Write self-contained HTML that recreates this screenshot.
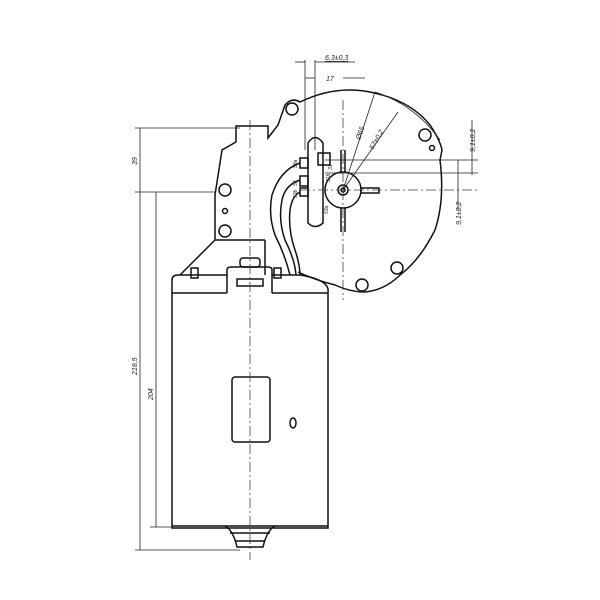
<!DOCTYPE html>
<html><head><style>
html,body{margin:0;padding:0;background:#fff;}
svg{display:block;}
text{font-family:"Liberation Sans",sans-serif;font-style:italic;fill:#222;}
</style></head><body>
<svg width="600" height="600" viewBox="0 0 600 600" xmlns="http://www.w3.org/2000/svg">
<g fill="none" stroke="#111" stroke-width="1.5">
<path d="M172,528 L172,280 Q172,275 178,275 L227,275 L227,270 Q227,267 231,267 L268,267 Q272,267 272,270 L272,275 L300,275 Q330,280 328,292 L328,528 Z"/>
<line x1="172" y1="293" x2="227" y2="293"/>
<line x1="272" y1="293" x2="328" y2="293"/>
<line x1="227" y1="275" x2="227" y2="293"/>
<line x1="272" y1="275" x2="272" y2="293"/>
<rect x="237" y="279" width="26" height="7"/>
<rect x="240" y="258" width="20" height="9" rx="3"/>
<rect x="191" y="268" width="7" height="10"/>
<rect x="274" y="268" width="7" height="10"/>
<line x1="172" y1="526" x2="328" y2="526"/>
<path d="M225,526 Q233,530 237,547 L263,547 Q267,530 275,526"/>
<line x1="230" y1="533" x2="270" y2="533"/>
<line x1="235" y1="541" x2="265" y2="541"/>
<rect x="232" y="377" width="38" height="65" rx="3"/>
<ellipse cx="293" cy="423" rx="3" ry="5"/>
<path d="M180,275 L215,240 L215,195 L222,150 L236,142 L236,126 L268,126 L268,138 L278,125 L285,105 Q292,97 300,102 Q335,85 370,92 Q410,100 430,125 Q440,140 442,150 L440,160 Q445,200 435,230 Q420,260 400,275 Q385,290 365,292 Q350,292 335,285 Q315,280 298,272"/>
<path d="M265,240 L265,275"/>
<line x1="215" y1="240" x2="265" y2="240"/>
<circle cx="292" cy="109" r="6"/>
<circle cx="425" cy="135" r="6"/>
<circle cx="397" cy="268" r="6"/>
<circle cx="362" cy="285" r="6"/>
<circle cx="225" cy="190" r="6"/>
<circle cx="225" cy="231" r="6"/>
<circle cx="225" cy="211" r="2.5"/>
<circle cx="432" cy="148" r="2.5"/>
<path d="M308,223 L308,143 Q315,132 323,143 L323,223 Q315,230 308,223 Z"/>
<rect x="300" y="158" width="8" height="10"/>
<rect x="300" y="176" width="8" height="10"/>
<rect x="300" y="188" width="8" height="8"/>
<rect x="318" y="153" width="12" height="12"/>
<circle cx="343" cy="190" r="18"/>
<circle cx="343" cy="190" r="5"/>
<circle cx="343" cy="190" r="2"/>
<line x1="341" y1="150" x2="341" y2="172"/>
<line x1="345" y1="150" x2="345" y2="172"/>
<line x1="341" y1="208" x2="341" y2="232"/>
<line x1="345" y1="208" x2="345" y2="232"/>
<rect x="361" y="188" width="18" height="5"/>
<path d="M300,163 Q280,170 272,195 Q268,215 275,235 Q285,255 290,275"/>
<path d="M300,180 Q285,185 282,200 Q278,220 285,240 Q295,260 296,275"/>
<path d="M300,192 Q292,196 290,210 Q288,230 295,250 Q300,265 300,275"/>
</g>
<g stroke="#444" stroke-width="0.8" stroke-dasharray="10,3,2,3" fill="none">
<line x1="250" y1="120" x2="250" y2="560"/>
<line x1="343" y1="100" x2="343" y2="300"/>
<line x1="300" y1="190" x2="480" y2="190"/>
</g>
<g stroke="#222" stroke-width="0.8" fill="none">
<line x1="140" y1="128" x2="140" y2="550"/>
<line x1="135" y1="128" x2="240" y2="128"/>
<line x1="135" y1="192" x2="215" y2="192"/>
<line x1="156" y1="192" x2="156" y2="527"/>
<line x1="135" y1="550" x2="240" y2="550"/>
<line x1="150" y1="527" x2="172" y2="527"/>
<line x1="305" y1="60" x2="305" y2="150"/>
<line x1="315" y1="60" x2="315" y2="150"/>
<line x1="295" y1="62" x2="305" y2="62"/>
<line x1="315" y1="62" x2="355" y2="62"/>
<line x1="305" y1="78" x2="315" y2="78"/>
<line x1="343" y1="78" x2="365" y2="78"/>
<line x1="325" y1="160" x2="478" y2="160"/>
<line x1="325" y1="173" x2="478" y2="173"/>
<line x1="458" y1="160" x2="458" y2="210"/>
<line x1="472" y1="120" x2="472" y2="175"/>
<line x1="343" y1="190" x2="375" y2="92"/>
<line x1="343" y1="190" x2="398" y2="112"/>
<path d="M375,92 Q415,105 440,140"/>
</g>
<g font-size="7">
<text x="325" y="60" text-decoration="underline">6,3±0,3</text>
<text x="326" y="81">17</text>
<text transform="translate(137,165) rotate(-90)">39</text>
<text transform="translate(137,375) rotate(-90)">218,5</text>
<text transform="translate(153,400) rotate(-90)">204</text>
<text transform="translate(360,140) rotate(-70)">Ø65</text>
<text transform="translate(373,150) rotate(-60)">57±0,2</text>
<text transform="translate(475,152) rotate(-90)">9,1±0,2</text>
<text transform="translate(461,225) rotate(-90)">9,1±0,2</text>
</g>
<g font-size="5">
<text transform="translate(297,168) rotate(-90)">53a</text>
<text transform="translate(297,186) rotate(-90)">53</text>
<text transform="translate(297,198) rotate(-90)">53b</text>
<text transform="translate(332,170) rotate(-90)">31</text>
<text transform="translate(330,182) rotate(-90)">31b</text>
<text transform="translate(328,214) rotate(-90)">53a</text>
</g>
</svg>
</body></html>
